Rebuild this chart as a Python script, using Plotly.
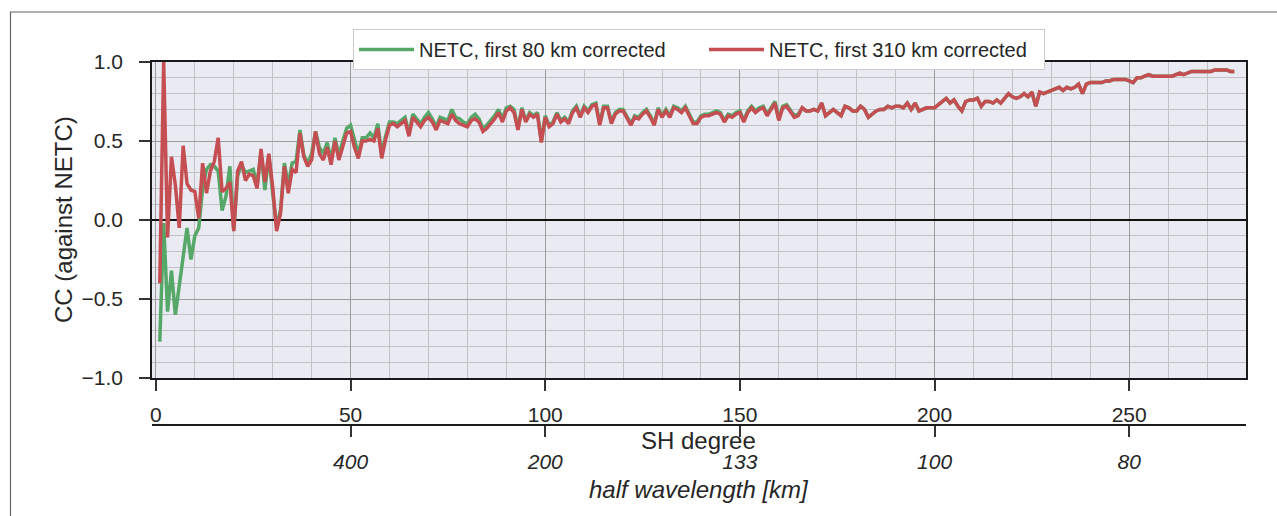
import plotly.graph_objects as go

# SH degree axis
degrees = list(range(1, 278))

# Correlation coefficient against NETC, first 80 km corrected
cc_80km = [
    -0.77, -0.02, -0.58, -0.32, -0.60, -0.42, -0.23, -0.05, -0.25, -0.10,
    -0.05, 0.20, 0.32, 0.35, 0.34, 0.31, 0.06, 0.15, 0.34, -0.06,
    0.28, 0.35, 0.30, 0.31, 0.32, 0.22, 0.43, 0.19, 0.41, 0.17,
    -0.04, 0.06, 0.36, 0.22, 0.36, 0.37, 0.57, 0.41, 0.36, 0.42,
    0.56, 0.46, 0.42, 0.49, 0.38, 0.52, 0.41, 0.50, 0.58, 0.60,
    0.50, 0.42, 0.52, 0.52, 0.55, 0.52, 0.61, 0.42, 0.53, 0.62,
    0.62, 0.61, 0.63, 0.65, 0.55, 0.67, 0.64, 0.61, 0.65, 0.68,
    0.64, 0.59, 0.65, 0.64, 0.63, 0.70, 0.65, 0.64, 0.62, 0.61,
    0.65, 0.67, 0.64, 0.58, 0.60, 0.63, 0.66, 0.70, 0.64, 0.71,
    0.72, 0.70, 0.58, 0.71, 0.63, 0.68, 0.66, 0.68, 0.50, 0.66,
    0.60, 0.62, 0.68, 0.63, 0.65, 0.62, 0.69, 0.72, 0.66, 0.72,
    0.69, 0.73, 0.74, 0.61, 0.72, 0.72, 0.62, 0.68, 0.70, 0.70,
    0.66, 0.61, 0.66, 0.65, 0.68, 0.70, 0.66, 0.61, 0.71, 0.66,
    0.70, 0.66, 0.72, 0.71, 0.69, 0.72, 0.67, 0.62, 0.62, 0.66,
    0.67, 0.67, 0.68, 0.69, 0.68, 0.63, 0.67, 0.66, 0.68, 0.69,
    0.63, 0.69, 0.72, 0.69, 0.71, 0.72, 0.67, 0.71, 0.75, 0.64,
    0.72, 0.73, 0.69, 0.66, 0.67, 0.71, 0.69, 0.69, 0.70, 0.69,
    0.74, 0.66, 0.68, 0.70, 0.68, 0.66, 0.72, 0.71, 0.69, 0.69,
    0.72, 0.70, 0.65, 0.67, 0.69, 0.70, 0.70, 0.72, 0.71, 0.72,
    0.72, 0.71, 0.74, 0.70, 0.74, 0.69, 0.70, 0.71, 0.71, 0.71,
    0.73, 0.75, 0.77, 0.74, 0.76, 0.72, 0.69, 0.75, 0.76, 0.76,
    0.77, 0.72, 0.75, 0.75, 0.74, 0.76, 0.74, 0.77, 0.80, 0.78,
    0.77, 0.78, 0.80, 0.78, 0.81, 0.72, 0.81, 0.80, 0.81, 0.82,
    0.83, 0.84, 0.82, 0.84, 0.83, 0.84, 0.86, 0.80, 0.86, 0.87,
    0.87, 0.87, 0.87, 0.88, 0.88, 0.89, 0.89, 0.89, 0.89, 0.88,
    0.87, 0.90, 0.90, 0.91, 0.92, 0.91, 0.91, 0.91, 0.91, 0.91,
    0.91, 0.92, 0.93, 0.92, 0.93, 0.94, 0.94, 0.94, 0.94, 0.94,
    0.94, 0.95, 0.95, 0.95, 0.95, 0.94, 0.94,
]

# Correlation coefficient against NETC, first 310 km corrected
cc_310km = [
    -0.40, 1.00, -0.11, 0.40, 0.22, -0.05, 0.47, 0.23, 0.19, 0.18,
    0.01, 0.36, 0.17, 0.31, 0.37, 0.52, 0.18, 0.20, 0.24, -0.07,
    0.31, 0.37, 0.25, 0.29, 0.28, 0.20, 0.45, 0.24, 0.42, 0.21,
    -0.07, 0.04, 0.34, 0.17, 0.32, 0.30, 0.55, 0.40, 0.34, 0.38,
    0.56, 0.42, 0.38, 0.46, 0.35, 0.50, 0.38, 0.47, 0.55, 0.56,
    0.46, 0.39, 0.50, 0.50, 0.51, 0.50, 0.58, 0.39, 0.51, 0.60,
    0.61, 0.59, 0.61, 0.63, 0.53, 0.65, 0.62, 0.59, 0.63, 0.65,
    0.62, 0.57, 0.63, 0.62, 0.61, 0.67, 0.63, 0.61, 0.60, 0.59,
    0.63, 0.64, 0.62, 0.56, 0.58, 0.61, 0.64, 0.68, 0.62, 0.69,
    0.71, 0.68, 0.57, 0.70, 0.62, 0.67, 0.65, 0.67, 0.49, 0.65,
    0.59, 0.61, 0.67, 0.62, 0.64, 0.61, 0.68, 0.71, 0.65, 0.71,
    0.68, 0.72, 0.73, 0.60, 0.71, 0.71, 0.61, 0.67, 0.69, 0.69,
    0.65, 0.60, 0.65, 0.64, 0.67, 0.69, 0.65, 0.60, 0.70, 0.65,
    0.69, 0.65, 0.71, 0.70, 0.68, 0.71, 0.66, 0.61, 0.61, 0.65,
    0.66, 0.66, 0.67, 0.68, 0.67, 0.62, 0.66, 0.65, 0.67, 0.68,
    0.62, 0.68, 0.71, 0.68, 0.70, 0.71, 0.66, 0.70, 0.74, 0.63,
    0.71, 0.72, 0.68, 0.65, 0.66, 0.71, 0.69, 0.69, 0.70, 0.69,
    0.74, 0.66, 0.68, 0.70, 0.68, 0.66, 0.72, 0.71, 0.69, 0.69,
    0.72, 0.70, 0.65, 0.67, 0.69, 0.70, 0.70, 0.72, 0.71, 0.72,
    0.72, 0.71, 0.74, 0.70, 0.74, 0.69, 0.70, 0.71, 0.71, 0.71,
    0.73, 0.75, 0.77, 0.74, 0.76, 0.72, 0.69, 0.75, 0.76, 0.76,
    0.77, 0.72, 0.75, 0.75, 0.74, 0.76, 0.74, 0.77, 0.80, 0.78,
    0.77, 0.78, 0.80, 0.78, 0.81, 0.72, 0.81, 0.80, 0.81, 0.82,
    0.83, 0.84, 0.82, 0.84, 0.83, 0.84, 0.86, 0.80, 0.86, 0.87,
    0.87, 0.87, 0.87, 0.88, 0.88, 0.89, 0.89, 0.89, 0.89, 0.88,
    0.87, 0.90, 0.90, 0.91, 0.92, 0.91, 0.91, 0.91, 0.91, 0.91,
    0.91, 0.92, 0.93, 0.92, 0.93, 0.94, 0.94, 0.94, 0.94, 0.94,
    0.94, 0.95, 0.95, 0.95, 0.95, 0.94, 0.94,
]

# Secondary axis: half wavelength labels at selected SH degrees
hw_degrees = [50, 100, 150, 200, 250]
hw_labels = ["400", "200", "133", "100", "80"]

W, H = 1277, 516
FONT = "Liberation Sans, Arial, sans-serif"
TXT = "#262626"
GREEN = "#55A868"
RED = "#C44E52"

# plot area in pixels
px_l, px_r, px_t, px_b = 152, 1246, 62, 378
dom_x = [px_l / W, px_r / W]
dom_y = [1 - px_b / H, 1 - px_t / H]
xmid = (dom_x[0] + dom_x[1]) / 2
xrange = [-1, 280]

fig = go.Figure()
fig.add_trace(go.Scatter(
    x=degrees, y=cc_80km, mode="lines", name="NETC, first 80 km corrected",
    line=dict(color=GREEN, width=3.5), legendwidth=280,
))
fig.add_trace(go.Scatter(
    x=degrees, y=cc_310km, mode="lines", name="NETC, first 310 km corrected",
    line=dict(color=RED, width=3.5), legendwidth=270,
))
# carrier for the half-wavelength axis
fig.add_trace(go.Scatter(x=[], y=[], xaxis="x2", yaxis="y", showlegend=False,
                         hoverinfo="skip"))

fig.update_layout(
    width=W, height=H,
    margin=dict(l=0, r=0, t=0, b=0, pad=0, autoexpand=False),
    paper_bgcolor="white",
    plot_bgcolor="#EAEAF2",
    font=dict(family=FONT, color=TXT, size=20),
    showlegend=True,
    legend=dict(
        orientation="h", x=xmid, xanchor="center", y=1 - 29 / H, yanchor="top",
        bgcolor="white", bordercolor="#CCCCCC", borderwidth=1,
        font=dict(size=20, color=TXT), traceorder="normal",
        itemwidth=55, entrywidthmode="pixels",
    ),
    xaxis=dict(
        domain=dom_x, range=xrange, anchor="y",
        tickmode="linear", tick0=0, dtick=50,
        ticks="outside", ticklen=11, tickwidth=1.5, tickcolor="#333333",
        ticklabelstandoff=6,
        tickfont=dict(size=21, color=TXT),
        showgrid=True, gridcolor="#9C9C9C", gridwidth=1.2,
        minor=dict(dtick=10, tick0=0, showgrid=True, gridcolor="#C2C2C6",
                   gridwidth=1, ticks=""),
        showline=True, linecolor="#1A1A1A", linewidth=1.5, mirror=True,
        zeroline=False,
    ),
    xaxis2=dict(
        domain=dom_x, range=xrange, overlaying="x", anchor="free",
        position=1 - 425 / H, side="bottom",
        tickmode="array", tickvals=hw_degrees, ticktext=hw_labels,
        ticks="outside", ticklen=11, tickwidth=1.5, tickcolor="#333333",
        ticklabelstandoff=7,
        tickfont=dict(size=21, color=TXT, style="italic"),
        showgrid=False, zeroline=False,
        showline=True, linecolor="#1A1A1A", linewidth=1.5,
    ),
    yaxis=dict(
        domain=dom_y, range=[-1, 1], anchor="x",
        tickmode="linear", tick0=-1, dtick=0.5, tickformat=".1f",
        ticks="outside", ticklen=11, tickwidth=1.5, tickcolor="#333333",
        ticklabelstandoff=12,
        tickfont=dict(size=21, color=TXT),
        showgrid=True, gridcolor="#9C9C9C", gridwidth=1.2,
        minor=dict(dtick=0.1, tick0=0, showgrid=True, gridcolor="#C2C2C6",
                   gridwidth=1, ticks=""),
        zeroline=True, zerolinecolor="#111111", zerolinewidth=2,
        showline=True, linecolor="#1A1A1A", linewidth=1.5, mirror=True,
    ),
    annotations=[
        dict(text="SH degree", xref="paper", yref="paper", x=xmid, y=1 - 440 / H,
             xanchor="center", yanchor="middle", showarrow=False,
             font=dict(size=24, color=TXT)),
        dict(text="half wavelength [km]", xref="paper", yref="paper", x=xmid,
             y=1 - 489 / H, xanchor="center", yanchor="middle", showarrow=False,
             font=dict(size=24, color=TXT, style="italic")),
        dict(text="CC (against NETC)", xref="paper", yref="paper", x=63 / W,
             y=1 - 220 / H, xanchor="center", yanchor="middle", showarrow=False,
             textangle=-90, font=dict(size=24, color=TXT)),
    ],
    shapes=[
        dict(type="rect", xref="paper", yref="paper",
             x0=10.5 / W, x1=1.05, y0=-0.05, y1=1 - 12 / H,
             line=dict(color="#666666", width=1.2), fillcolor="rgba(0,0,0,0)",
             layer="below"),
    ],
)

fig.write_html("out.html")
